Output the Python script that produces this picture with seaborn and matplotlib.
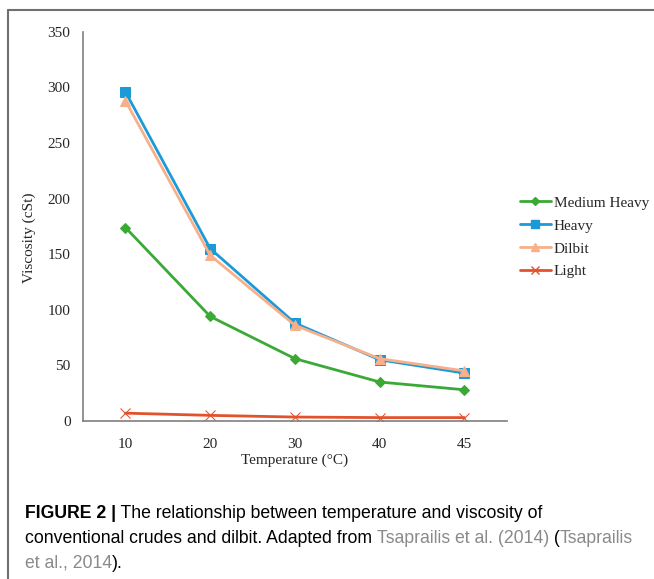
import pandas as pd
import matplotlib.pyplot as plt
import seaborn as sns
from matplotlib.lines import Line2D

# data
temps = ["10", "20", "30", "40", "45"]
medium_heavy = [174, 94, 56, 35, 28]
heavy = [296, 155, 88, 55, 43]
dilbit = [288, 149, 86, 56, 45]
light = [7, 5, 3.5, 3, 3]

series = ["Medium Heavy", "Heavy", "Dilbit", "Light"]
colors = {"Medium Heavy": "#3ba936", "Heavy": "#1c9ad8",
          "Dilbit": "#f8b08a", "Light": "#e1522d"}
markers = {"Medium Heavy": "D", "Heavy": "s", "Dilbit": "^", "Light": "x"}
msizes = {"Medium Heavy": 5, "Heavy": 7, "Dilbit": 7, "Light": 7}

df = pd.DataFrame({
    "Temperature": temps * 4,
    "Viscosity": medium_heavy + heavy + dilbit + light,
    "Series": [s for s in series for _ in temps],
})

sns.set_style("white")
plt.rcParams["font.family"] = ["Liberation Serif", "DejaVu Serif"]

fig = plt.figure(figsize=(6.54, 5.79), dpi=100)
ax = fig.add_axes([0.127, 0.273, 0.648, 0.672])

for s in series:
    sub = df[df["Series"] == s]
    sns.lineplot(data=sub, x="Temperature", y="Viscosity", ax=ax,
                 color=colors[s], marker=markers[s], markersize=msizes[s],
                 markeredgecolor=colors[s], linewidth=2, label=s, legend=False)

ax.set_xlim(-0.5, 4.5)
ax.set_ylim(0, 350)
ax.set_yticks(range(0, 351, 50))
ax.tick_params(axis="x", length=0, labelsize=11, pad=12)
ax.tick_params(axis="y", length=0, labelsize=11, pad=9)
ax.set_xlabel("Temperature (\u00b0C)", fontsize=11, labelpad=2)
ax.set_ylabel("Viscosity (cSt)", fontsize=11)
ax.yaxis.set_label_coords(-0.112, 0.47)
for side in ["top", "right"]:
    ax.spines[side].set_visible(False)
for side in ["left", "bottom"]:
    ax.spines[side].set_color("#7f7f7f")
    ax.spines[side].set_linewidth(1.2)

handles = [Line2D([0], [0], color=colors[s], marker=markers[s],
                  markersize=msizes[s] - 1, linewidth=2) for s in series]
fig.legend(handles, series, loc="upper left", bbox_to_anchor=(0.774, 0.685),
           frameon=False, fontsize=11, handlelength=2.0, handletextpad=0.2,
           labelspacing=0.6)

# outer frame (top and left edges)
fig.add_artist(Line2D([8 / 654, 1], [1 - 10 / 579, 1 - 10 / 579],
                      color="#707070", linewidth=1.5))
fig.add_artist(Line2D([8 / 654, 8 / 654], [0, 1 - 10 / 579],
                      color="#707070", linewidth=1.5))

# caption built piece by piece so bold / gray parts sit inline
cap_font = ["Liberation Sans", "DejaVu Sans"]
gray = "#8a8a8a"
lines = [
    [("FIGURE 2 |", "black", "bold"),
     (" The relationship between temperature and viscosity of", "black", "normal")],
    [("conventional crudes and dilbit. Adapted from ", "black", "normal"),
     ("Tsaprailis et al. (2014)", gray, "normal"),
     (" (", "black", "normal"),
     ("Tsaprailis", gray, "normal")],
    [("et al., 2014", gray, "normal"),
     (").", "black", "normal")],
]
renderer = fig.canvas.get_renderer()
y0 = 518
for row in lines:
    x = 25
    for txt, col, wt in row:
        t = fig.text(x / 654, 1 - y0 / 579, txt, color=col, fontweight=wt,
                     fontsize=12.7, family=cap_font, va="baseline", ha="left")
        x += t.get_window_extent(renderer).width
    y0 += 25

fig.savefig("out.png", dpi=100)
